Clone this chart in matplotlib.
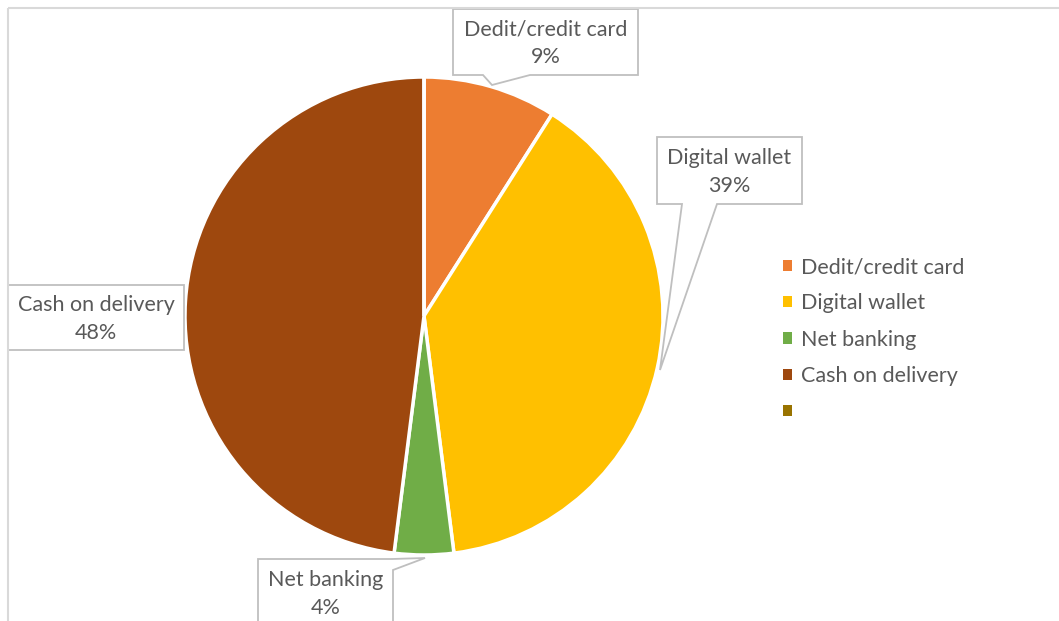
import matplotlib
matplotlib.use("Agg")
import matplotlib.pyplot as plt
from matplotlib.patches import Polygon, Patch

# Payment method share (%)
categories = ["Dedit/credit card", "Digital wallet", "Net banking", "Cash on delivery", ""]
shares = [9, 39, 4, 48, 0]
colors = ["#ED7D31", "#FFC000", "#70AD47", "#9E480E", "#997300"]

W, H = 1059, 621
DPI = 100
TEXT = "#595959"
EDGE = "#BFBFBF"
FONT = "Lato"
FS = 15.5

fig = plt.figure(figsize=(W / DPI, H / DPI), dpi=DPI)
fig.patch.set_facecolor("white")

# pie axes: centre (424, 316) px, radius 239 px
cx, cy, r = 424, 316, 239
ax = fig.add_axes([(cx - r) / W, (H - cy - r) / H, 2 * r / W, 2 * r / H])
wedges, _ = ax.pie(shares, colors=colors, startangle=90, counterclock=False,
                   wedgeprops=dict(edgecolor="white", linewidth=2.5))
ax.set_xlim(-1, 1)
ax.set_ylim(-1, 1)
ax.set_aspect("equal")
ax.axis("off")

# overlay in pixel coordinates for chart frame and callouts
ov = fig.add_axes([0, 0, 1, 1], zorder=5)
ov.set_xlim(0, W)
ov.set_ylim(H, 0)
ov.axis("off")
ov.patch.set_alpha(0)

# chart area frame (cropped on right and bottom)
ov.plot([7.5, W + 5], [7.5, 7.5], color="#D9D9D9", lw=1.5, solid_capstyle="butt")
ov.plot([7.5, 7.5], [7.5, H + 5], color="#D9D9D9", lw=1.5, solid_capstyle="butt")

def callout(points, text, tx, ty):
    ov.add_patch(Polygon(points, closed=True, facecolor="white", edgecolor=EDGE,
                         lw=1.3, joinstyle="miter"))
    ov.text(tx, ty, text, ha="center", va="center", color=TEXT,
            fontsize=FS, family=FONT, linespacing=1.5)

fmt = lambda i: f"{categories[i]}\n{shares[i]}%"

callout([(453, 9), (638, 9), (638, 75), (530, 75), (492, 85), (483, 75), (453, 75)],
        fmt(0), 545.5, 43)
callout([(657, 137), (802, 137), (802, 204), (717, 204), (660, 370), (682, 204), (657, 204)],
        fmt(1), 729.5, 172)
callout([(258, 559), (392, 559), (425, 558), (393, 570), (393, 640), (258, 640)],
        fmt(2), 325.5, 594)
callout([(8, 285), (184, 285), (184, 350), (8, 350)],
        fmt(3), 96, 319)

handles = [Patch(facecolor=c, edgecolor="none") for c in colors]
leg = fig.legend(handles, categories, loc="upper left",
                 bbox_to_anchor=(783 / W, 1 - 257 / H), frameon=False,
                 prop=dict(family=FONT, size=FS), labelcolor=TEXT,
                 handlelength=0.42, handleheight=0.42, handletextpad=0.42,
                 labelspacing=0.76, borderpad=0, borderaxespad=0)

fig.savefig("out.png", dpi=DPI, facecolor="white")
